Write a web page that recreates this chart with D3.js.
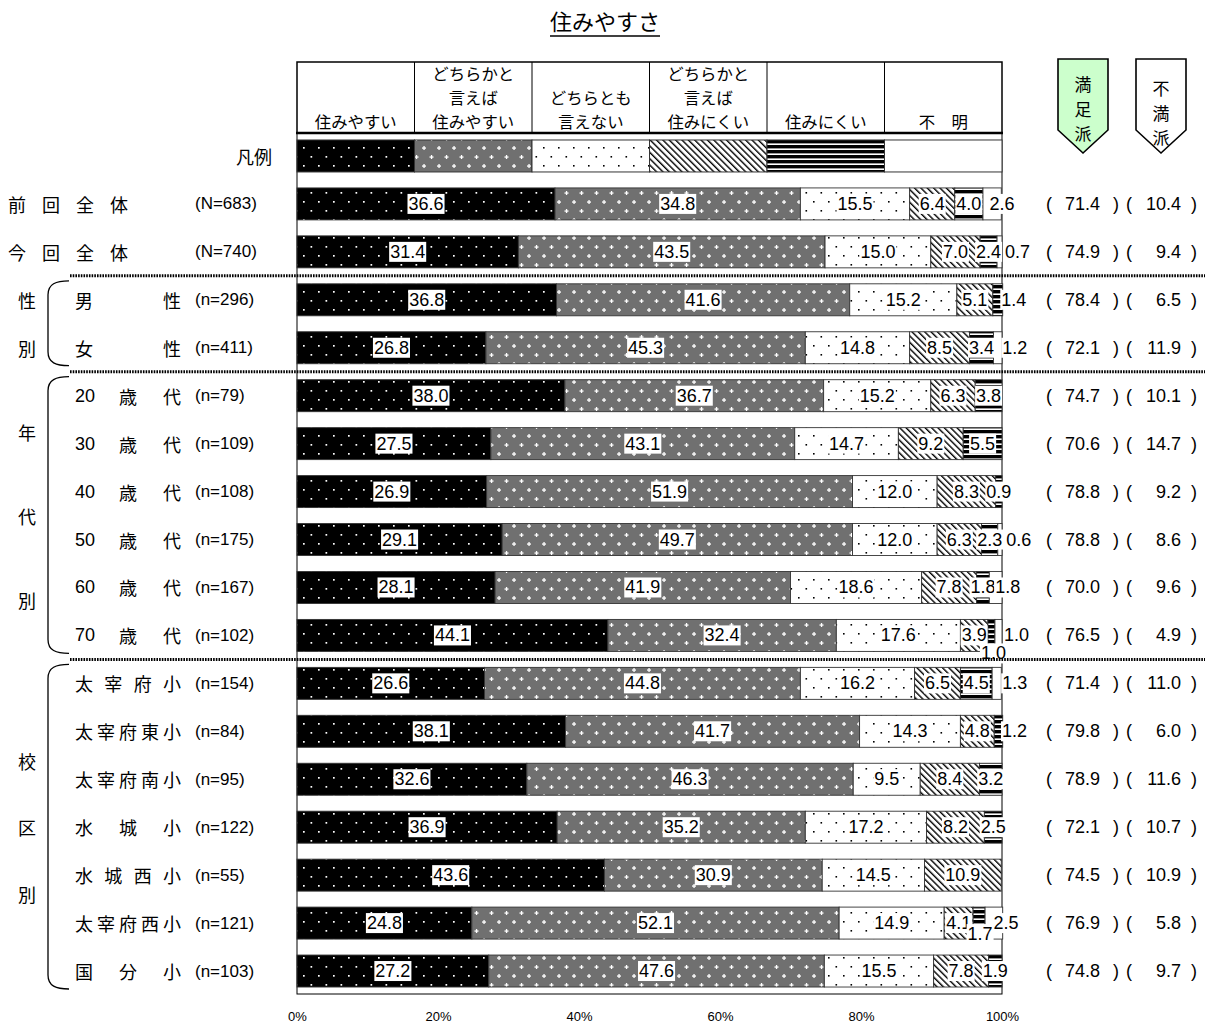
<!DOCTYPE html>
<html lang="ja">
<head>
<meta charset="utf-8">
<script src="https://cdn.jsdelivr.net/npm/d3@7"></script>
<style>
  html, body { margin: 0; padding: 0; background: #fff; }
  svg { display: block; }
</style>
</head>
<body>
<script>
// ---- data -------------------------------------------------------------
const categories = ["前回全体", "今回全体", "男性", "女性", "20歳代", "30歳代", "40歳代", "50歳代",
  "60歳代", "70歳代", "太宰府小", "太宰府東小", "太宰府南小", "水城小", "水城西小", "太宰府西小", "国分小"];
const sampleSizes = ["(N=683)", "(N=740)", "(n=296)", "(n=411)", "(n=79)", "(n=109)", "(n=108)", "(n=175)",
  "(n=167)", "(n=102)", "(n=154)", "(n=84)", "(n=95)", "(n=122)", "(n=55)", "(n=121)", "(n=103)"];
const seriesNames = ["住みやすい", "どちらかと言えば住みやすい", "どちらとも言えない",
  "どちらかと言えば住みにくい", "住みにくい", "不明"];

const sumiyasui     = [36.6, 31.4, 36.8, 26.8, 38.0, 27.5, 26.9, 29.1, 28.1, 44.1, 26.6, 38.1, 32.6, 36.9, 43.6, 24.8, 27.2];
const yaya_sumiyasui = [34.8, 43.5, 41.6, 45.3, 36.7, 43.1, 51.9, 49.7, 41.9, 32.4, 44.8, 41.7, 46.3, 35.2, 30.9, 52.1, 47.6];
const dochiratomo   = [15.5, 15.0, 15.2, 14.8, 15.2, 14.7, 12.0, 12.0, 18.6, 17.6, 16.2, 14.3, 9.5, 17.2, 14.5, 14.9, 15.5];
const yaya_suminikui = [6.4, 7.0, 5.1, 8.5, 6.3, 9.2, 8.3, 6.3, 7.8, 3.9, 6.5, 4.8, 8.4, 8.2, 10.9, 4.1, 7.8];
const suminikui     = [4.0, 2.4, 1.4, 3.4, 3.8, 5.5, 0.9, 2.3, 1.8, 1.0, 4.5, 1.2, 3.2, 2.5, 0.0, 1.7, 1.9];
const fumei         = [2.6, 0.7, 0.0, 1.2, 0.0, 0.0, 0.0, 0.6, 1.8, 1.0, 1.3, 0.0, 0.0, 0.0, 0.0, 2.5, 0.0];

const manzoku = [71.4, 74.9, 78.4, 72.1, 74.7, 70.6, 78.8, 78.8, 70.0, 76.5, 71.4, 79.8, 78.9, 72.1, 74.5, 76.9, 74.8];
const fuman   = [10.4, 9.4, 6.5, 11.9, 10.1, 14.7, 9.2, 8.6, 9.6, 4.9, 11.0, 6.0, 11.6, 10.7, 10.9, 5.8, 9.7];

const headerLabels = [["住みやすい"], ["どちらかと", "言えば", "住みやすい"], ["どちらとも", "言えない"],
  ["どちらかと", "言えば", "住みにくい"], ["住みにくい"], ["不　明"]];
const tickValues = [0, 20, 40, 60, 80, 100];

const groups = [
  { chars: ["性", "別"], first: 2, last: 3 },
  { chars: ["年", "代", "別"], first: 4, last: 9 },
  { chars: ["校", "区", "別"], first: 10, last: 16 }
];

// ---- layout -----------------------------------------------------------
const W = 1205, H = 1025;
const JP = "'Noto Sans CJK JP', 'Noto Sans', sans-serif";
const NUM = "'Liberation Sans', Arial, sans-serif";
const groupCharGap = [48, 84, 66.5];

// hand-placed value labels for slim segments: "row:series" -> [dx, dy]
const labelNudge = {
  "0:5": [10, 0], "1:5": [18, 0], "2:4": [16, 0], "3:5": [17, 0], "7:5": [19, 0], "8:5": [12, 0],
  "9:4": [2, 18], "9:5": [18, 0], "10:5": [18, 0], "11:4": [16, 0], "15:4": [1, 11], "15:5": [12, 0]
};

const svg = d3.select("body").append("svg").attr("width", W).attr("height", H);

const x = d3.scaleLinear().domain([0, 100]).range([297, 1002]);
const rowKeys = ["凡例", ...categories];
const y = d3.scaleBand().domain(rowKeys).range([132, 995]).paddingInner(0.333).paddingOuter(0.1665);

// ---- fill patterns ----------------------------------------------------
const defs = svg.append("defs");
function pat(id, w, h) {
  return defs.append("pattern").attr("id", id).attr("patternUnits", "userSpaceOnUse")
    .attr("width", w).attr("height", h);
}
// black with white dots
let p0 = pat("p0", 15, 18);
p0.append("rect").attr("width", 15).attr("height", 18).attr("fill", "#000");
[[3, 3], [10.5, 12]].forEach(([a, b]) =>
  p0.append("rect").attr("x", a).attr("y", b).attr("width", 1.7).attr("height", 1.7).attr("fill", "#fff"));
// gray with white crosses
let p1 = pat("p1", 15, 18);
p1.append("rect").attr("width", 15).attr("height", 18).attr("fill", "#707070");
[[4, 4], [11.5, 13]].forEach(([a, b]) => {
  p1.append("rect").attr("x", a - 2).attr("y", b - 0.6).attr("width", 4).attr("height", 1.3).attr("fill", "#fff");
  p1.append("rect").attr("x", a - 0.6).attr("y", b - 2).attr("width", 1.3).attr("height", 4).attr("fill", "#fff");
});
// white with black dots
let p2 = pat("p2", 15, 18);
p2.append("rect").attr("width", 15).attr("height", 18).attr("fill", "#fff");
[[3, 3], [10.5, 12]].forEach(([a, b]) =>
  p2.append("rect").attr("x", a).attr("y", b).attr("width", 1.6).attr("height", 1.6).attr("fill", "#000"));
// diagonal hatch
let p3 = pat("p3", 4.5, 4.5).attr("patternTransform", "rotate(-45)");
p3.append("rect").attr("width", 4.5).attr("height", 4.5).attr("fill", "#fff");
p3.append("rect").attr("width", 1.4).attr("height", 4.5).attr("fill", "#000");
// horizontal stripes
let p4 = pat("p4", 6, 5);
p4.append("rect").attr("width", 6).attr("height", 5).attr("fill", "#fff");
p4.append("rect").attr("width", 6).attr("height", 3.4).attr("fill", "#000");

const fills = ["url(#p0)", "url(#p1)", "url(#p2)", "url(#p3)", "url(#p4)", "#fff"];

// ---- title ------------------------------------------------------------
const title = svg.append("text").attr("x", 605).attr("y", 30).attr("text-anchor", "middle")
  .attr("font-family", JP).attr("font-size", 22).text("住みやすさ");
const tb = title.node().getBBox();
svg.append("line").attr("x1", tb.x).attr("x2", tb.x + tb.width).attr("y1", 36).attr("y2", 36)
  .attr("stroke", "#000").attr("stroke-width", 1.3);

// ---- header table -----------------------------------------------------
const hTop = 62, hBot = 133;
const colW = 100 / seriesNames.length;
const header = svg.append("g");
header.append("rect").attr("x", x(0)).attr("y", hTop).attr("width", x(100) - x(0)).attr("height", hBot - hTop)
  .attr("fill", "#fff").attr("stroke", "#000").attr("stroke-width", 1.5);
headerLabels.forEach((lines, i) => {
  if (i > 0) header.append("line").attr("x1", x(i * colW)).attr("x2", x(i * colW))
    .attr("y1", hTop).attr("y2", hBot).attr("stroke", "#000").attr("stroke-width", 1);
  const cx = (x(i * colW) + x((i + 1) * colW)) / 2;
  const t = header.append("text").attr("text-anchor", "middle").attr("font-family", JP).attr("font-size", 16.4);
  lines.forEach((s, j) => {
    t.append("tspan").attr("x", cx).attr("y", 128 - (lines.length - 1 - j) * 24).text(s);
  });
});

// ---- plot frame -------------------------------------------------------
svg.append("rect").attr("x", x(0)).attr("y", hBot).attr("width", x(100) - x(0)).attr("height", 994 - hBot)
  .attr("fill", "none").attr("stroke", "#000").attr("stroke-width", 1);
svg.append("line").attr("x1", x(0) - 1).attr("x2", x(100) + 1).attr("y1", hBot).attr("y2", hBot)
  .attr("stroke", "#000").attr("stroke-width", 2.6);

// ---- legend row -------------------------------------------------------
const legY = y("凡例");
seriesNames.forEach((s, i) => {
  svg.append("rect").attr("x", x(i * colW)).attr("y", legY).attr("width", x(colW) - x(0))
    .attr("height", y.bandwidth()).attr("fill", fills[i]).attr("stroke", "#333").attr("stroke-width", 1);
});
svg.append("text").attr("x", 272).attr("y", legY + y.bandwidth() / 2).attr("dominant-baseline", "central")
  .attr("text-anchor", "end").attr("font-family", JP).attr("font-size", 18).text("凡例");

// ---- stacked bars -----------------------------------------------------
const table = categories.map((c, i) => ({
  cat: c, s0: sumiyasui[i], s1: yaya_sumiyasui[i], s2: dochiratomo[i],
  s3: yaya_suminikui[i], s4: suminikui[i], s5: fumei[i]
}));
const keys = ["s0", "s1", "s2", "s3", "s4", "s5"];
const stacked = d3.stack().keys(keys)(table);

const barG = svg.append("g");
stacked.forEach((layer, si) => {
  barG.append("g").selectAll("rect").data(layer.filter(d => d[1] - d[0] > 0)).join("rect")
    .attr("x", d => x(d[0])).attr("y", d => y(d.data.cat))
    .attr("width", d => x(d[1]) - x(d[0])).attr("height", y.bandwidth())
    .attr("fill", fills[si]).attr("stroke", "#333").attr("stroke-width", 0.9);
});

// value labels with white backing
const labG = svg.append("g");
stacked.forEach((layer, si) => {
  layer.forEach((d, ri) => {
    const val = table[ri][keys[si]];
    if (!(val > 0)) return;
    const nudge = labelNudge[ri + ":" + si] || [0, 0];
    const cx = (x(d[0]) + x(d[1])) / 2 + nudge[0];
    const cy = y(d.data.cat) + y.bandwidth() / 2 + nudge[1];
    const g = labG.append("g");
    const t = g.append("text").attr("x", cx).attr("y", cy).attr("text-anchor", "middle")
      .attr("dominant-baseline", "central").attr("font-family", NUM).attr("font-size", 18)
      .text(val.toFixed(1));
    const b = t.node().getBBox();
    g.insert("rect", "text").attr("x", b.x - 1).attr("y", cy - 10).attr("width", b.width + 2)
      .attr("height", 20).attr("fill", "#fff");
  });
});

// ---- separators and group brackets ------------------------------------
const step = y.step();
[1, 3, 9].forEach(ri => {
  const yy = y(categories[ri]) + y.bandwidth() + (step - y.bandwidth()) / 2;
  svg.append("line").attr("x1", 70).attr("x2", W).attr("y1", yy).attr("y2", yy)
    .attr("stroke", "#000").attr("stroke-width", 3).attr("stroke-dasharray", "1.6,1.1");
});
groups.forEach((g, gi) => {
  const top = y(categories[g.first]) - (step - y.bandwidth()) / 2 + 5;
  const bot = y(categories[g.last]) + y.bandwidth() + (step - y.bandwidth()) / 2 - 6;
  svg.append("path")
    .attr("d", `M69,${top} C56,${top} 48,${top + 3} 48,${top + 14} L48,${bot - 14} C48,${bot - 3} 56,${bot} 69,${bot}`)
    .attr("fill", "none").attr("stroke", "#000").attr("stroke-width", 1.3);
  const mid = (y(categories[g.first]) + y(categories[g.last]) + y.bandwidth()) / 2;
  g.chars.forEach((ch, k) => {
    svg.append("text").attr("x", 27).attr("y", mid + (k - (g.chars.length - 1) / 2) * groupCharGap[gi])
      .attr("text-anchor", "middle").attr("dominant-baseline", "central")
      .attr("font-family", JP).attr("font-size", 18).text(ch);
  });
});

// ---- row labels -------------------------------------------------------
const inGroup = i => groups.some(g => i >= g.first && i <= g.last);
categories.forEach((c, i) => {
  const cy = y(c) + y.bandwidth() / 2;
  const tokens = c.match(/\d+|./g);
  tokens.forEach((tk, k) => {
    const tx = inGroup(i) ? 75 + (tokens.length > 1 ? k * 88 / (tokens.length - 1) : 0) : 8 + k * 34;
    svg.append("text").attr("x", tx).attr("y", cy).attr("dominant-baseline", "central")
      .attr("font-family", /\d/.test(tk) ? NUM : JP).attr("font-size", 18).text(tk);
  });
  svg.append("text").attr("x", 195).attr("y", cy).attr("dominant-baseline", "central")
    .attr("font-family", NUM).attr("font-size", 17).text(sampleSizes[i]);

  // satisfied / dissatisfied totals
  const rg = svg.append("g").attr("font-family", NUM).attr("font-size", 18);
  [["(", 1049], [")", 1116], ["(", 1129], [")", 1194]]
    .forEach(([t, px]) => rg.append("text").attr("x", px).attr("y", cy).attr("text-anchor", "middle")
      .attr("dominant-baseline", "central").text(t));
  rg.append("text").attr("x", 1100).attr("y", cy).attr("text-anchor", "end")
    .attr("dominant-baseline", "central").text(manzoku[i].toFixed(1));
  rg.append("text").attr("x", 1181).attr("y", cy).attr("text-anchor", "end")
    .attr("dominant-baseline", "central").text(fuman[i].toFixed(1));
});

// ---- summary badges ---------------------------------------------------
function badge(cx, fill, chars, ty) {
  const l = cx - 25, r = cx + 25, t = 59, s = 130, b = 153;
  svg.append("path").attr("d", `M${l},${t} L${r},${t} L${r},${s} L${cx},${b} L${l},${s} Z`)
    .attr("fill", fill).attr("stroke", "#000").attr("stroke-width", 1.6);
  const tx = svg.append("text").attr("text-anchor", "middle").attr("font-family", JP).attr("font-size", 17);
  chars.forEach((ch, k) => tx.append("tspan").attr("x", cx).attr("y", ty + 6 + k * 24.6).text(ch));
}
badge(1083, "#ccffcc", ["満", "足", "派"], 85);
badge(1161, "#fff", ["不", "満", "派"], 89);

// ---- x axis labels ----------------------------------------------------
const axis = svg.append("g").attr("transform", "translate(0,1009)")
  .call(d3.axisBottom(x).tickValues(tickValues).tickFormat(d => d + "%").tickSize(0));
axis.select(".domain").remove();
axis.selectAll("text").attr("font-family", NUM).attr("font-size", 13).attr("fill", "#000");
</script>
</body>
</html>
